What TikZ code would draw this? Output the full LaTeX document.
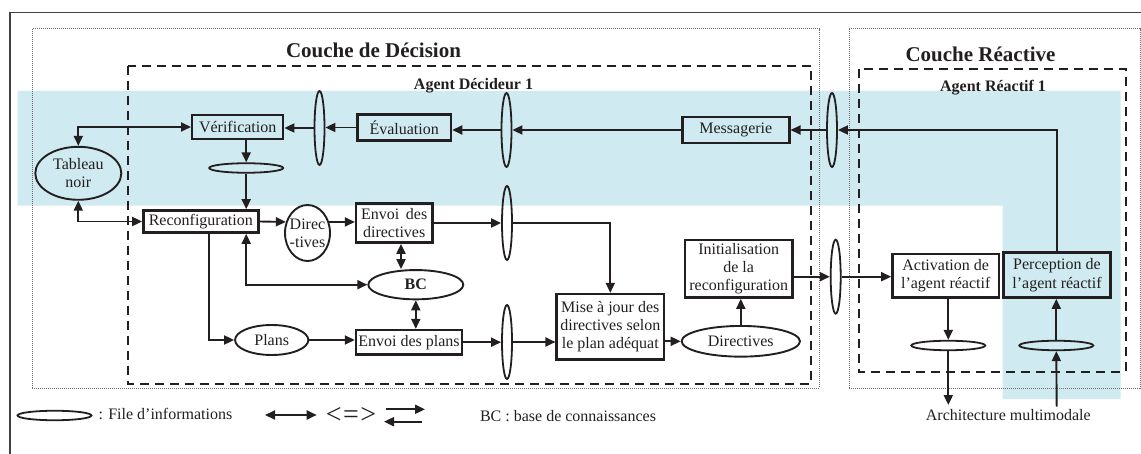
\documentclass[tikz,border=0pt]{standalone}
\usepackage{fontspec}
\setmainfont{Liberation Serif}
\usetikzlibrary{arrows.meta,shapes.geometric}
\definecolor{archInk}{HTML}{231F20}
\definecolor{archCyan}{HTML}{CFEAF0}
\definecolor{archGray}{HTML}{6E6E6E}
\tikzset{
  arch frame/.style={draw=archInk!85, line width=1.7pt},
  arch layer/.style={draw=archGray, line width=0.7pt, dash pattern=on 0.8pt off 1.2pt},
  arch agent/.style={draw=archInk, line width=2.3pt, dash pattern=on 9pt off 6pt},
  arch box/.style={rectangle, draw=archInk, line width=2.4pt, inner sep=0pt, align=center, text=archInk, font=\fontsize{16}{18.3}\selectfont},
  arch oval/.style={ellipse, draw=archInk, line width=1.9pt, inner sep=0pt, align=center, text=archInk, font=\fontsize{16}{18.3}\selectfont},
  arch file/.style={ellipse, draw=archInk, line width=1.8pt, inner sep=0pt, minimum width=74pt, minimum height=9.5pt},
  arch vfile/.style={ellipse, draw=archInk, line width=1.8pt, inner sep=0pt, minimum width=10pt, minimum height=74pt},
  arch link/.style={draw=archInk, line width=1.9pt, >={Triangle[length=10pt,width=9pt]}},
  arch title/.style={font=\bfseries\fontsize{21}{24}\selectfont, text=archInk, anchor=base},
  arch label/.style={font=\bfseries\fontsize{16}{18}\selectfont, text=archInk, anchor=base},
  arch small label/.style={font=\fontsize{16}{18}\selectfont, text=archInk, anchor=base},
}

\begin{document}
\begin{tikzpicture}[x=1pt,y=-1pt]
  \clip (0,0) rectangle (1141,454);
  \fill[archCyan] (17.7,91) -- (1120.7,91) -- (1120.7,399) -- (1002.7,399) -- (1002.7,205.7) -- (17.7,205.7) -- cycle;
  \draw[arch frame] (10,12.5) rectangle (1160,480);
  \draw[arch layer] (32,28.7) rectangle (819.3,388.3);
  \draw[arch layer] (849,28.7) rectangle (1140,388.3);
  \draw[arch agent] (128,65.7) rectangle (811,384);
  \draw[arch agent] (858.7,69.3) rectangle (1126,371.7);

  \node[arch title] (decisionTitle) at (373.5,57.3) {Couche de Décision};
  \node[arch title] (reactiveTitle) at (980.5,61.7) {Couche Réactive};
  \node[arch label] (deciderTitle) at (473.5,89.3) {Agent Décideur 1};
  \node[arch label] (reactorTitle) at (993,91.7) {Agent Réactif 1};

  \node[arch oval, minimum width=86pt, minimum height=53pt] (tableau) at (78.3,173.3) {Tableau\\noir};
  \node[arch box, minimum width=91pt, minimum height=24pt] (verif) at (237.7,127) {Vérification};
  \node[arch vfile] (fileVE) at (319.5,128) {};
  \node[arch box, minimum width=93.7pt, minimum height=25.7pt] (evalu) at (404.2,127.5) {Évaluation};
  \node[arch vfile] (fileEM) at (506.5,130) {};
  \node[arch box, minimum width=107pt, minimum height=26pt] (msg) at (735.8,130) {Messagerie};
  \node[arch vfile] (fileMR) at (832,130) {};
  \node[arch file] (fileV) at (246.2,168) {};

  \node[arch box, minimum width=115pt, minimum height=22.3pt] (reconf) at (200.8,221.5) {Reconfiguration};
  \node[arch oval, inner xsep=-8pt, minimum width=45pt, minimum height=56pt] (directs) at (307.5,233) {Direc\\-tives};
  \node[arch box, minimum width=76.3pt, minimum height=39.3pt] (envdir) at (394.2,223) {Envoi\hspace{0.41em}des\\directives};
  \node[arch vfile] (fileDir) at (507,223) {};
  \node[arch oval, minimum width=95pt, minimum height=29.3pt] (bc) at (415.8,284.7) {\textbf{BC}};
  \node[arch oval, minimum width=73.3pt, minimum height=30pt] (plans) at (271.7,340) {Plans};
  \node[arch box, minimum width=106pt, minimum height=24.3pt] (envplans) at (409,342.2) {Envoi des plans};
  \node[arch vfile] (filePlans) at (507,342) {};
  \node[arch box, minimum width=107.3pt, minimum height=65.3pt] (maj) at (610.3,326.7) {Mise à jour des\\directives selon\\le plan adéquat};
  \node[arch oval, minimum width=118.3pt, minimum height=30.7pt] (directives) at (740.8,341.3) {Directives};
  \node[arch box, minimum width=107.3pt, minimum height=57.7pt] (init) at (738.7,268.8) {Initialisation\\de la\\reconfiguration};
  \node[arch vfile] (fileInit) at (835.7,276.7) {};
  \node[arch box, minimum width=106.7pt, minimum height=43.7pt] (activ) at (945.7,275.8) {Activation de\\l’agent réactif};
  \node[arch box, minimum width=107.3pt, minimum height=45pt] (percep) at (1057,275.2) {Perception de\\l’agent réactif};
  \node[arch file] (fileAct) at (948.3,345.5) {};
  \node[arch file] (filePer) at (1056.3,345.5) {};
  \node[arch small label] (archiText) at (1008.3,420.7) {Architecture multimodale};
  \coordinate (archOut) at (948.3,405);
  \coordinate (archIn) at (1056.7,406.7);

  \draw[arch link, <->] (verif.west) -| (tableau.north);
  \draw[arch link, <->] (tableau.south) |- (reconf.west);
  \draw[arch link, ->] (fileV.north |- verif.south) -- (fileV.north);
  \draw[arch link, ->] (fileV.south) -- (fileV.south |- reconf.north);
  \draw[arch link, ->] (evalu.west) -- (evalu.west -| fileVE.east);
  \draw[arch link, ->] (fileVE.west) -- (fileVE.west -| verif.east);
  \draw[arch link, ->] (fileEM.west) -- (fileEM.west -| evalu.east);
  \draw[arch link, ->] (msg.west) -- (msg.west -| fileEM.east);
  \draw[arch link, ->] (fileMR.west) -- (fileMR.west -| msg.east);
  \draw[arch link, ->] (percep.north) |- (fileMR.east);
  \draw[arch link, ->] (reconf.east) -- (directs.153);
  \draw[arch link, ->] (directs.27) -- (directs.27 -| envdir.west);
  \draw[arch link, ->] (envdir.east) -- (envdir.east -| fileDir.west);
  \draw[arch link, ->] (fileDir.east) -| (maj.north);
  \draw[arch link, <->] ([xshift=6.8pt]envdir.south) -- ([xshift=6.8pt]envdir.south |- bc.north);
  \draw[arch link, <->] (bc.south) -- (bc.south |- envplans.north);
  \draw[arch link, <->] (fileV.south |- reconf.south) |- (bc.west);
  \draw[arch link, ->] ([xshift=8.5pt]reconf.south) |- (plans.west);
  \draw[arch link, ->] (plans.east) -- (plans.east -| envplans.west);
  \draw[arch link, ->] (envplans.east) -- (envplans.east -| filePlans.west);
  \draw[arch link, ->] (filePlans.east) -- (filePlans.east -| maj.west);
  \draw[arch link, ->] (maj.east |- directives.west) -- (directives.west);
  \draw[arch link, ->] (directives.north) -- (directives.north |- init.south);
  \draw[arch link, ->] (init.east |- fileInit.west) -- (fileInit.west);
  \draw[arch link, ->] (fileInit.east) -- (fileInit.east -| activ.west);
  \draw[arch link, ->] (fileAct.north |- activ.south) -- (fileAct.north);
  \draw[arch link, ->] (fileAct.south) -- (archOut);
  \draw[arch link, ->] (archIn) -- (filePer.south);
  \draw[arch link, ->] (filePer.north) -- (filePer.north |- percep.south);

  \node[arch file] (legFile) at (54.5,415.5) {};
  \node[arch small label, anchor=base west] (legFileText) at (95,419) {: File d’informations};
  \coordinate (legBothA) at (265,415);
  \coordinate (legBothB) at (316.7,415);
  \draw[arch link, <->] (legBothA) -- (legBothB);
  \node[text=archInk, font=\fontsize{28}{30}\selectfont, inner sep=0pt] (legEquiv) at (351,415.8) {<\kern1.5pt=\kern1.5pt>};
  \coordinate (legFwdA) at (386,409.3);
  \coordinate (legFwdB) at (425,409.3);
  \coordinate (legBackA) at (421.7,421.7);
  \coordinate (legBackB) at (384,421.7);
  \draw[arch link, ->] (legFwdA) -- (legFwdB);
  \draw[arch link, ->] (legBackA) -- (legBackB);
  \node[arch small label] (legBC) at (568,421.5) {BC : base de connaissances};
\end{tikzpicture}
\end{document}
